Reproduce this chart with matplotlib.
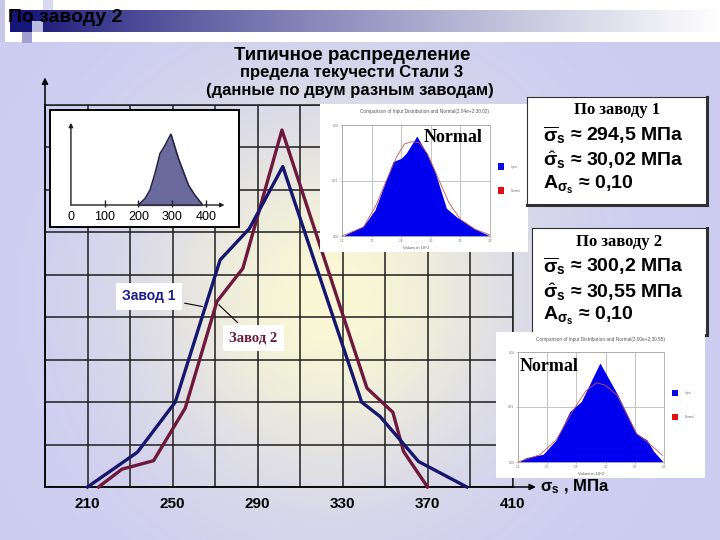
import matplotlib
matplotlib.use('Agg')
import matplotlib.pyplot as plt
from matplotlib.patches import Rectangle
import numpy as np

plt.rcParams['font.family'] = ['Liberation Sans', 'DejaVu Sans']
plt.rcParams['mathtext.fontset'] = 'custom'
plt.rcParams['mathtext.rm'] = 'Liberation Sans'
plt.rcParams['mathtext.it'] = 'Liberation Sans:italic'
plt.rcParams['mathtext.bf'] = 'Liberation Sans:bold'

# main chart: yield strength histogram polygons for two plants
plant1_x = [210, 233.5, 251.3, 272.4, 286.2, 301.9, 339.0, 347.7, 365.8, 388.5]
plant1_y = [0, 0.82, 2.0, 5.35, 6.09, 7.55, 2.0, 1.66, 0.6, 0]
plant2_x = [215.2, 226.2, 241.1, 256.0, 270.9, 283.1, 301.5, 341.5, 353.7, 358.7, 370.0]
plant2_y = [0, 0.42, 0.62, 1.86, 4.37, 5.15, 8.41, 2.33, 1.76, 0.84, 0]
grid_x = list(range(190, 411, 20))
label_x = [210, 250, 290, 330, 370, 410]
grid_y = list(range(0, 10))

# small sketch of the distribution (top-left inset)
sketch_x = [199, 219, 234, 249, 264, 276, 296, 318, 333, 348, 367, 387]
sketch_y = [0, 0.09, 0.21, 0.45, 0.73, 0.82, 1.0, 0.66, 0.47, 0.28, 0.14, 0.02]
sketch_ticks = [0, 100, 200, 300, 400]

# screenshot insets: input distribution vs normal (values in 10^2)
p1_in_x = [2.11, 2.36, 2.50, 2.72, 2.82, 2.88, 3.01, 3.13, 3.23, 3.37, 3.49, 3.70, 3.90]
p1_in_y = [0, 0.09, 0.234, 0.67, 0.70, 0.745, 0.90, 0.745, 0.58, 0.25, 0.174, 0.07, 0]
p1_nm_x = [2.10, 2.36, 2.51, 2.64, 2.77, 2.86, 2.95, 3.04, 3.14, 3.27, 3.40, 3.54, 3.72, 3.90]
p1_nm_y = [0, 0.08, 0.27, 0.50, 0.72, 0.83, 0.85, 0.84, 0.74, 0.52, 0.30, 0.15, 0.06, 0.01]
p2_in_x = [2.11, 2.20, 2.41, 2.57, 2.74, 2.88, 3.11, 3.33, 3.56, 3.69, 3.77, 3.89]
p2_in_y = [0, 0.04, 0.07, 0.20, 0.46, 0.55, 0.90, 0.61, 0.26, 0.20, 0.10, 0]
p2_nm_x = [2.10, 2.37, 2.57, 2.78, 2.94, 3.07, 3.17, 3.32, 3.56, 3.73, 3.88]
p2_nm_y = [0, 0.066, 0.20, 0.47, 0.65, 0.72, 0.70, 0.61, 0.26, 0.16, 0.06]
shot_ticks = [2.1, 2.46, 2.82, 3.18, 3.54, 3.9]

W, H = 720, 540


def px(x0, y0, x1, y1):
    return [x0 / W, 1 - y1 / H, (x1 - x0) / W, (y1 - y0) / H]


fig = plt.figure(figsize=(7.2, 5.4), dpi=100)

# background: white top, lavender panel with yellow glow
yy, xx = np.mgrid[0:H, 0:W]
img = np.ones((H, W, 3))
base = np.array([204, 204, 242]) / 255
glow = np.array([250, 248, 212]) / 255
wgt = np.exp(-(((xx - 330) / 190.0) ** 2 + ((yy - 300) / 190.0) ** 2))[..., None]
panel = base * (1 - wgt) + glow * wgt
img[42:] = panel[42:]
navy = np.array([22, 22, 120]) / 255
t = (np.clip((xx - 30) / 690.0, 0, 1) ** 0.8)[..., None]
bar = navy * (1 - t) + np.ones(3) * t
img[10:32, 10:] = bar[10:32, 10:]

bg = fig.add_axes([0, 0, 1, 1], zorder=0)
bg.imshow(img, extent=(0, W, H, 0), aspect='auto')
bg.set_xlim(0, W)
bg.set_ylim(H, 0)
bg.axis('off')
bg.add_patch(Rectangle((0, 0), 5, 42, color='#c8c8e6', lw=0))
bg.add_patch(Rectangle((43, 0), 10, 10, color='#d8d8ee', lw=0))
bg.add_patch(Rectangle((32, 21), 11, 11, color='#bcbce0', lw=0))
bg.add_patch(Rectangle((22, 32), 10, 11, color='#a0a0d2', lw=0))
bg.text(8, 17, 'По заводу 2', fontsize=14, fontweight='bold', va='center', ha='left')
bg.text(352, 55, 'Типичное распределение', fontsize=13.5, fontweight='bold',
        ha='center', va='center')
bg.text(352, 73, 'предела текучести Стали 3', fontsize=12, fontweight='bold',
        ha='center', va='center')
bg.text(350, 90, '(данные по двум разным заводам)', fontsize=12, fontweight='bold',
        ha='center', va='center')

# main chart
ax = fig.add_axes(px(45, 105, 512.5, 487), zorder=1)
ax.patch.set_alpha(0)
ax.set_xlim(190, 410)
ax.set_ylim(0, 9)
ax.set_xticks(grid_x, minor=True)
ax.set_xticks(label_x)
ax.set_xticklabels([str(v) for v in label_x], fontsize=11, fontweight='bold')
ax.set_yticks(grid_y)
ax.set_yticklabels([])
ax.tick_params(which='both', length=0, pad=7)
ax.grid(which='both', color='#1e1e1e', lw=1.1)
for s in ax.spines.values():
    s.set_color('#1e1e1e')
    s.set_linewidth(1.1)
ax.annotate('', xy=(1.05, 0), xytext=(0, 0), xycoords='axes fraction',
            arrowprops=dict(arrowstyle='-|>', color='black', lw=1.1,
                            mutation_scale=9, shrinkA=0, shrinkB=0))
ax.annotate('', xy=(0, 1.072), xytext=(0, 0), xycoords='axes fraction',
            arrowprops=dict(arrowstyle='-|>', color='black', lw=1.1,
                            mutation_scale=9, shrinkA=0, shrinkB=0))
ax.text(1.058, 0.0, r'$\mathbf{\sigma}_{\mathbf{s}}$ , МПа', transform=ax.transAxes,
        fontsize=12, fontweight='bold', ha='left', va='center')
ax.plot(plant1_x, plant1_y, color='#16166e', lw=2.4, zorder=4, clip_on=False)
ax.plot(plant2_x, plant2_y, color='#6e193c', lw=2.4, zorder=3, clip_on=False)
ax.annotate('Завод 1', xy=(265.3, 4.24), xytext=(238.9, 4.49), ha='center', va='center',
            fontsize=10, fontweight='bold', color='#1c1c8c', zorder=6,
            bbox=dict(boxstyle='square,pad=0.45', fc='white', ec='none'),
            arrowprops=dict(arrowstyle='-', color='black', lw=0.8))
ax.annotate('Завод 2', xy=(270.8, 4.34), xytext=(288.1, 3.52), ha='center', va='center',
            fontsize=10.5, fontweight='bold', color='#6e193c', family='Liberation Serif',
            zorder=6, bbox=dict(boxstyle='square,pad=0.45', fc='white', ec='none'),
            arrowprops=dict(arrowstyle='-', color='black', lw=0.8))

# top-left sketch inset
sk = fig.add_axes(px(50, 110, 239, 227), zorder=5)
sk.set_facecolor('white')
sk.set_xlim(-62, 498)
sk.set_ylim(-0.31, 1.34)
sk.set_xticks([])
sk.set_yticks([])
for s in sk.spines.values():
    s.set_linewidth(1.4)
sk.fill_between(sketch_x, sketch_y, color='#6a6a9c', zorder=2)
sk.plot(sketch_x, sketch_y, color='#20203c', lw=1.0, zorder=3)
sk.annotate('', xy=(455, 0), xytext=(0, 0), xycoords='data',
            arrowprops=dict(arrowstyle='-|>', color='#202020', lw=1.0,
                            mutation_scale=6, shrinkA=0, shrinkB=0))
sk.annotate('', xy=(0, 1.16), xytext=(0, 0), xycoords='data',
            arrowprops=dict(arrowstyle='-|>', color='#202020', lw=1.0,
                            mutation_scale=6, shrinkA=0, shrinkB=0))
sk.vlines(sketch_ticks[1:], -0.03, 0.07, color='#202020', lw=1.0, zorder=4)
for v in sketch_ticks:
    sk.text(v, -0.17, str(v), fontsize=9, ha='center', va='center')


def screenshot(frame_rect, plot_rect, title, in_x, in_y, nm_x, nm_y,
               normal_pos, sq_x, sq_blue_y, sq_red_y, sq_h):
    fr = fig.add_axes(px(*frame_rect), zorder=5)
    fr.set_facecolor('white')
    fr.set_xticks([])
    fr.set_yticks([])
    fr.set_xlim(0, 1)
    fr.set_ylim(0, 1)
    for s in fr.spines.values():
        s.set_visible(False)
    fr.text(0.5, 0.95, title, fontsize=3.4, color='#555555', ha='center', va='center')
    fr.add_patch(Rectangle((sq_x, sq_blue_y), 0.029, sq_h, color='#0a0ae6', lw=0))
    fr.add_patch(Rectangle((sq_x, sq_red_y), 0.029, sq_h, color='#e01010', lw=0))
    fr.text(sq_x + 0.06, sq_blue_y + sq_h / 2, 'Input', fontsize=2.2, color='#777777', va='center')
    fr.text(sq_x + 0.06, sq_red_y + sq_h / 2, 'Normal', fontsize=2.2, color='#777777', va='center')
    pa = fig.add_axes(px(*plot_rect), zorder=6)
    pa.set_facecolor('white')
    pa.set_xlim(2.1, 3.9)
    pa.set_ylim(0, 1)
    pa.fill_between(in_x, in_y, color='#0000ee', lw=0, zorder=2)
    pa.plot(nm_x, nm_y, color='#c85050', lw=0.6, zorder=3)
    pa.set_xticks(shot_ticks)
    pa.set_xticklabels([f'{v:.1f}' for v in shot_ticks])
    pa.set_yticks([0, 0.5, 1])
    pa.set_yticklabels(['0.00', '0.01', '0.02'])
    pa.tick_params(labelsize=2.3, labelcolor='#777777', length=1.5, width=0.4,
                   color='#999999', pad=1)
    pa.grid(color='#c4c4c4', lw=0.7)
    pa.set_axisbelow(True)
    for s in pa.spines.values():
        s.set_color('#aaaaaa')
        s.set_linewidth(0.6)
    pa.set_xlabel('Values in 10^2', fontsize=3, color='#555555', labelpad=1.5)
    pa.text(normal_pos[0], normal_pos[1], 'Normal', transform=pa.transAxes,
            fontsize=13, fontweight='bold', family='Liberation Serif',
            ha='center', va='center', clip_on=False, zorder=5)


screenshot((320, 104, 528, 252), (342, 125, 490, 236),
           'Comparison of Input Distribution and Normal(2.94e+2;30.02)',
           p1_in_x, p1_in_y, p1_nm_x, p1_nm_y, (0.753, 0.89),
           0.856, 0.554, 0.392, 0.047)


def stat_box(rect, title, lines, x0, ys, tx, zorder):
    b = fig.add_axes(px(*rect), zorder=zorder)
    b.set_facecolor('white')
    b.set_xticks([])
    b.set_yticks([])
    for name, s in b.spines.items():
        s.set_color('#303030')
        s.set_linewidth(2.2 if name in ('right', 'bottom') else 0.8)
    b.text(tx, ys[0], title, transform=b.transAxes, fontsize=12, fontweight='bold',
           family='Liberation Serif', ha='center', va='center')
    for txt, y in zip(lines, ys[1:]):
        b.text(x0, y, txt, transform=b.transAxes, fontsize=14, fontweight='bold',
               ha='left', va='center')


stat_box((527, 97, 707, 205), 'По заводу 1',
         [r'$\overline{\mathbf{\sigma}}_{\mathbf{s}}$ ≈ 294,5 МПа',
          r'$\hat{\mathbf{\sigma}}_{\mathbf{s}}$ ≈ 30,02 МПа',
          r'$\mathbf{A}_{\mathbf{\sigma}_{\mathbf{s}}}$ ≈ 0,10'],
         0.089, [0.88, 0.65, 0.42, 0.185], 0.5, 5)
stat_box((532, 228, 707, 335), 'По заводу 2',
         [r'$\overline{\mathbf{\sigma}}_{\mathbf{s}}$ ≈ 300,2 МПа',
          r'$\hat{\mathbf{\sigma}}_{\mathbf{s}}$ ≈ 30,55 МПа',
          r'$\mathbf{A}_{\mathbf{\sigma}_{\mathbf{s}}}$ ≈ 0,10'],
         0.063, [0.87, 0.64, 0.40, 0.18], 0.5, 5)

screenshot((496, 332, 705, 478), (518, 352, 664, 462),
           'Comparison of Input Distribution and Normal(3.00e+2;30.55)',
           p2_in_x, p2_in_y, p2_nm_x, p2_nm_y, (0.212, 0.868),
           0.842, 0.562, 0.397, 0.041)

fig.savefig('out.png', dpi=100)
